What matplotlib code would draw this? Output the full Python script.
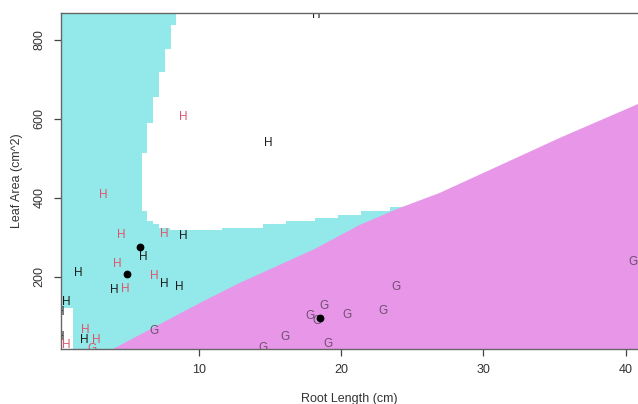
import matplotlib
matplotlib.use("Agg")
import matplotlib.pyplot as plt
from matplotlib.patches import Polygon, Rectangle

plt.rcParams['font.family'] = ['Liberation Sans', 'DejaVu Sans']

# ---- axis ranges ----
x_lim = (0.28, 40.87)
y_lim = (16.5, 868.6)
x_ticks = [10, 20, 30, 40]
y_ticks = [200, 400, 600, 800]

# ---- region boundaries ----
# cyan / white boundary: vertical staircase part (row edges, x edge per row)
white_step_y = [868.6, 838.2, 777.3, 719.0, 655.6, 589.7, 513.6, 366.5, 341.2, 333.5, 323.4, 318.3]
white_step_x = [8.36, 8.01, 7.59, 7.16, 6.74, 6.32, 5.97, 6.32, 6.74, 7.16, 7.94]
# horizontal staircase part (column edges, y level per column)
floor_x = [7.94, 11.59, 14.47, 16.08, 18.12, 19.74, 21.35, 23.39, 25.0]
floor_y = [318.3, 323.4, 333.5, 341.2, 348.7, 356.3, 366.5, 376.6]
# magenta upper boundary
mag_x = [3.06, 3.93, 10.04, 12.85, 18.12, 21.28, 24.09, 26.90, 30.9, 35.5, 40.25, 41.5]
mag_y = [0.0, 16.5, 133, 184, 270, 331, 374, 412, 478, 554, 628, 648]
# white notch at bottom-left
notch_x = [0.0, 1.10]
notch_y = [0.0, 120.5]

# ---- points ----
h_black_x = [8.85, 6.04, 1.48, 7.52, 8.57, 4.00, 0.63, 0.21, 0.25, 1.90, 14.89, 18.26]
h_black_y = [303, 250, 209, 181, 174, 166, 136, 110, 47, 39, 539, 864]
h_red_x = [4.50, 7.52, 4.21, 6.81, 4.78, 1.97, 2.74, 0.63, 3.23, 8.85]
h_red_y = [306, 308, 232, 202, 169, 65, 39, 26, 407, 605]
g_red_x = [2.46]
g_red_y = [16]
g_x = [6.81, 23.88, 18.75, 17.77, 18.26, 20.37, 22.90, 16.01, 14.47, 19.03, 40.53]
g_y = [62, 174, 126, 100, 87.5, 103, 113, 47, 19, 29, 237]
centre_x = [5.83, 4.92, 18.47]
centre_y = [275, 207, 95]

CYAN = '#93E9E9'
MAGENTA = '#E896E8'
RED = '#DF536B'
GCOL = '#6E4E70'
BLACK = '#1a1a1a'

fig = plt.figure(figsize=(6.38, 4.04), dpi=100)
ax = fig.add_axes([61/638, 55/404, 1 - 61/638, (349-13)/404])
ax.set_xlim(*x_lim)
ax.set_ylim(*y_lim)

# cyan polygon
verts = [(-5, white_step_y[0] + 100), (white_step_x[0], white_step_y[0] + 100)]
for i in range(len(white_step_x)):
    verts.append((white_step_x[i], white_step_y[i] if i > 0 else white_step_y[0] + 100))
    verts.append((white_step_x[i], white_step_y[i + 1]))
for j in range(len(floor_y)):
    verts.append((floor_x[j], floor_y[j]))
    verts.append((floor_x[j + 1], floor_y[j]))
verts += [(floor_x[-1], -100), (-5, -100)]
ax.add_patch(Polygon(verts, closed=True, facecolor=CYAN, edgecolor='none', zorder=1))

# magenta polygon
mverts = list(zip(mag_x, mag_y)) + [(mag_x[-1], -100), (mag_x[0], -100)]
ax.add_patch(Polygon(mverts, closed=True, facecolor=MAGENTA, edgecolor='none', zorder=2))

# white notch
ax.add_patch(Rectangle((notch_x[0] - 1, notch_y[0] - 50), notch_x[1] - notch_x[0] + 1,
                       notch_y[1] - notch_y[0] + 50, facecolor='white', edgecolor='none', zorder=3))

fs = 8.5
for x, y in zip(h_black_x, h_black_y):
    ax.text(x, y, 'H', color=BLACK, fontsize=fs, ha='center', va='center', clip_on=True, zorder=5)
for x, y in zip(h_red_x, h_red_y):
    ax.text(x, y, 'H', color=RED, fontsize=fs, ha='center', va='center', clip_on=True, zorder=5)
for x, y in zip(g_red_x, g_red_y):
    ax.text(x, y, 'G', color=RED, fontsize=fs, ha='center', va='center', clip_on=True, zorder=5)
for x, y in zip(g_x, g_y):
    ax.text(x, y, 'G', color=GCOL, fontsize=fs, ha='center', va='center', clip_on=True, zorder=5)
ax.plot(centre_x, centre_y, 'o', color='black', markersize=4.6, zorder=6)

for s in ['top', 'left', 'bottom']:
    ax.spines[s].set_color('#666666')
    ax.spines[s].set_linewidth(1.0)
    ax.spines[s].set_zorder(10)
ax.spines['right'].set_visible(False)

ax.set_xticks(x_ticks)
ax.set_yticks(y_ticks)
ax.tick_params(axis='both', direction='out', length=5, width=0.9, color='#444444',
               labelsize=9, labelcolor='#333333', pad=6)
for lab in ax.get_yticklabels():
    lab.set_rotation(90)
    lab.set_va('center')
ax.set_xlabel('Root Length (cm)', fontsize=9, color='#333333', labelpad=12)
ax.set_ylabel('Leaf Area (cm^2)', fontsize=9, color='#333333', labelpad=8)

fig.savefig('out.png', dpi=100)
